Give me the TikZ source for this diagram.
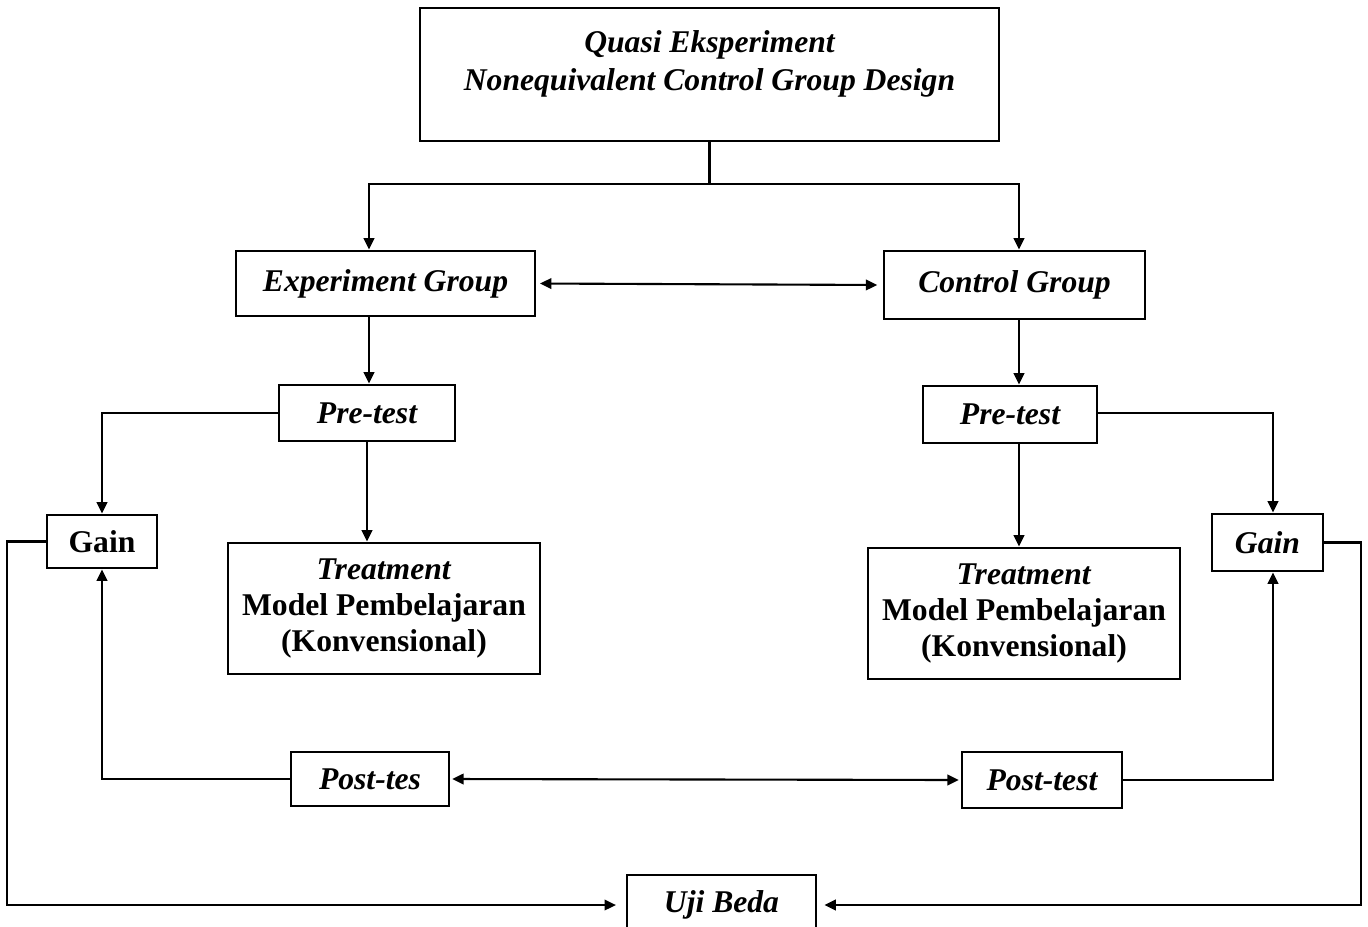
\documentclass[tikz,border=0pt]{standalone}
\usepackage{fontspec}
\setmainfont{Liberation Serif}
\usetikzlibrary{arrows.meta,positioning}

\begin{document}
\begin{tikzpicture}[
  box/.style={draw, line width=1.6pt, align=center, inner sep=0pt},
  lbl/.style={font=\fontsize{18}{20.5}\selectfont\bfseries\itshape},
  upr/.style={font=\fontsize{18}{20.5}\selectfont\bfseries},
  conn/.style={line width=1.2pt},
  arr/.style={conn, -{Triangle[length=6.5pt,width=6pt]}},
  arrs/.style={conn, {Triangle[length=6.5pt,width=6pt]}-{Triangle[length=6.5pt,width=6pt]}}
]
\clip (0,0) rectangle (27.36,-18.52);
\node[box, minimum width=11.58cm, minimum height=2.66cm] (qe) at (14.19,-1.49) {};
\node[font=\fontsize{18}{21.5}\selectfont\bfseries\itshape, align=center] (qetxt) at (14.19,-1.27) {Quasi Eksperiment\\Nonequivalent Control Group Design};
\node[box, lbl, minimum width=5.98cm, minimum height=1.30cm] (eg) at (7.71,-5.67) {Experiment Group};
\node[box, lbl, minimum width=5.22cm, minimum height=1.36cm] (cg) at (20.29,-5.70) {Control Group};
\node[box, lbl, minimum width=3.52cm, minimum height=1.12cm] (pre1) at (7.34,-8.26) {Pre-test};
\node[box, lbl, minimum width=3.48cm, minimum height=1.14cm] (pre2) at (20.20,-8.29) {Pre-test};
\node[box, upr, minimum width=2.20cm, minimum height=1.06cm] (gain1) at (2.04,-10.83) {Gain};
\node[box, lbl, minimum width=2.22cm, minimum height=1.14cm] (gain2) at (25.35,-10.85) {Gain};
\node[box, upr, minimum width=6.24cm, minimum height=2.62cm] (treat1) at (7.68,-12.17) {\textit{Treatment}\\Model Pembelajaran\\(Konvensional)};
\node[box, upr, minimum width=6.24cm, minimum height=2.62cm] (treat2) at (20.48,-12.27) {\textit{Treatment}\\Model Pembelajaran\\(Konvensional)};
\node[box, lbl, minimum width=3.16cm, minimum height=1.08cm] (post1) at (7.40,-15.58) {Post-tes};
\node[box, lbl, minimum width=3.20cm, minimum height=1.12cm] (post2) at (20.84,-15.60) {Post-test};
\node[box, lbl, minimum width=3.78cm, minimum height=1.20cm] (uji) at (14.43,-18.10) {Uji Beda};
\coordinate (split) at (14.19,-3.68);

\draw[conn] (qe.south) -- (split);
\draw[arr] (split) -| ([xshift=-0.33cm]eg.north);
\draw[arr] (split) -| ([xshift=0.09cm]cg.north);
\draw[arrs, shorten <=2pt, shorten >=3pt] (eg.east) -- (cg.west);
\draw[arr] ([xshift=-0.33cm]eg.south) -- ([xshift=-0.33cm]eg.south |- pre1.north);
\draw[arr] ([xshift=0.09cm]cg.south) -- ([xshift=0.09cm]cg.south |- pre2.north);
\draw[arr] (pre1.west) -| (gain1.north);
\draw[arr] (pre1.south) -- (pre1.south |- treat1.north);
\draw[arr] ([yshift=0.03cm]pre2.east) -| ([xshift=0.11cm]gain2.north);
\draw[arr] ([xshift=0.18cm]pre2.south) -- ([xshift=0.18cm]pre2.south |- treat2.north);
\draw[arr] (post1.west) -| (gain1.south);
\draw[arrs, shorten <=1pt, shorten >=1pt] (post1.east) -- (post2.west);
\draw[arr] (post2.east) -| ([xshift=0.11cm]gain2.south);
\draw[arr, shorten >=5.5pt] (gain1.west) -- ++(-0.78,0) |- (uji.west);
\draw[arr, shorten >=4pt] (gain2.east) -- ++(0.74,0) |- (uji.east);
\end{tikzpicture}
\end{document}
